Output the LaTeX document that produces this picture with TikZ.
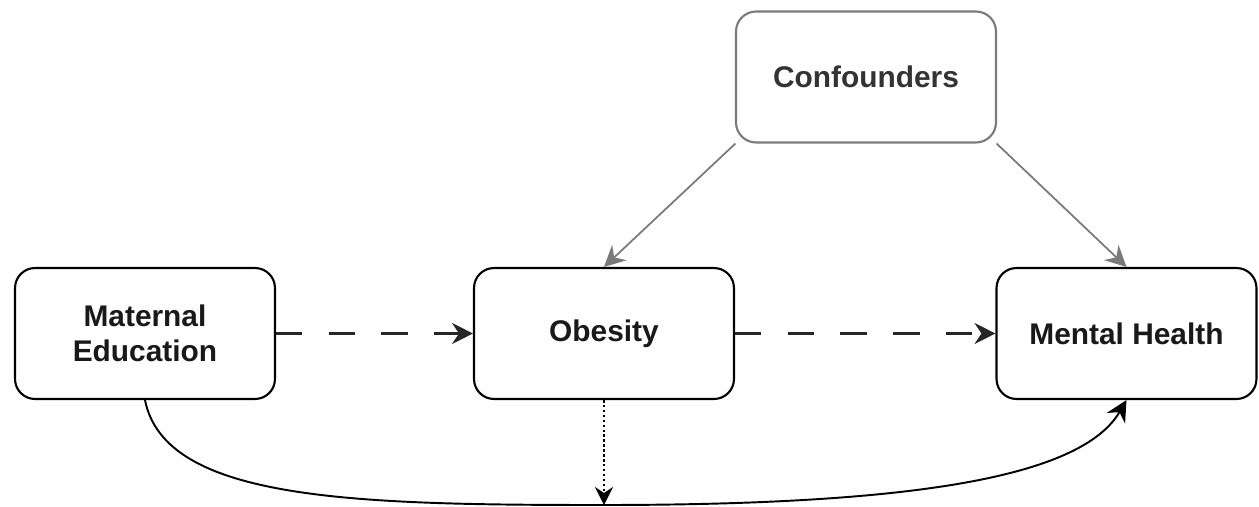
\documentclass[tikz,border=0pt]{standalone}
\usepackage{fontspec}
\setmainfont{Liberation Sans}
\usetikzlibrary{arrows.meta,calc}
\definecolor{edgegray}{HTML}{7A7A7A}
\definecolor{textgray}{HTML}{333333}
\tikzset{
  box/.style={draw=black, line width=1.2pt, rounded corners=0.4cm, fill=white,
    minimum width=5.2cm, minimum height=2.62cm, align=center,
    font=\fontsize{17}{20}\selectfont\bfseries, text=black!90},
  graybox/.style={box, draw=edgegray, text=textgray},
  tip/.style={-{Stealth[length=0.42cm, width=0.42cm, inset=0.14cm]}},
  dashedarrow/.style={tip, line width=1.2pt, dash pattern=on 15pt off 15pt, draw=black!85},
  grayarrow/.style={tip, line width=1pt, draw=edgegray},
  curvearrow/.style={tip, line width=1.1pt, draw=black},
  dotarrow/.style={-{Stealth[length=0.36cm, width=0.36cm, inset=0.12cm]}, line width=1.4pt, dash pattern=on 1.4pt off 1.4pt}
}
\begin{document}
\begin{tikzpicture}[x=0.02cm, y=-0.02cm]
\useasboundingbox (0,0) rectangle (1259,507);
\node[box] (me) at (145,333.5) {Maternal\\Education};
\node[box] (ob) at (604,333.5) {Obesity};
\node[box] (mh) at (1126.5,333.5) {Mental Health};
\node[graybox] (cf) at (866,77) {Confounders};
\coordinate (bot) at (602,505);
\draw[dashedarrow] (me.east) -- (ob.west);
\draw[dashedarrow] (ob.east) -- (mh.west);
\draw[grayarrow] (cf.-153) -- (ob.north);
\draw[grayarrow] (cf.-27) -- (mh.north);
\draw[curvearrow] (me.south) .. controls (165,500) and (350,505) .. (bot)
  .. controls (900,505) and (1080,480) .. (mh.south);
\draw[dotarrow] (ob.south) -- (ob.south |- bot);
\end{tikzpicture}
\end{document}
